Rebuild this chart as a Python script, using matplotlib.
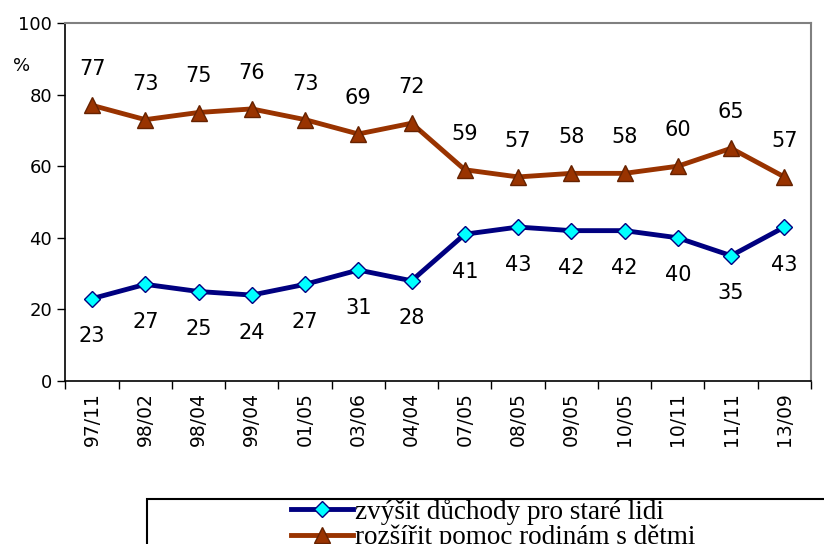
import matplotlib
matplotlib.use("Agg")
from matplotlib import pyplot as plt
from matplotlib.patches import Rectangle
from matplotlib.lines import Line2D

periods = ["97/11", "98/02", "98/04", "99/04", "01/05", "03/06", "04/04",
           "07/05", "08/05", "09/05", "10/05", "10/11", "11/11", "13/09"]
pensions = [23, 27, 25, 24, 27, 31, 28, 41, 43, 42, 42, 40, 35, 43]
families = [77, 73, 75, 76, 73, 69, 72, 59, 57, 58, 58, 60, 65, 57]

label_pensions = "zvýšit důchody pro staré lidi"
label_families = "rozšířit pomoc rodinám s dětmi"

blue = "#000080"
cyan = "#00FFFF"
red = "#993300"

W, H = 824, 544
fig = plt.figure(figsize=(W / 100, H / 100), dpi=100)
ax = fig.add_axes([65.4 / W, 1 - 381 / H, (811 - 65.4) / W, (381 - 23) / H])

x = list(range(len(periods)))

ax.plot(x, pensions, color=blue, lw=3.5, marker="D", ms=8.5,
        mfc=cyan, mec=blue, mew=1, zorder=3)
ax.plot(x, families, color=red, lw=3.5, marker="^", ms=11,
        mfc=red, mec="#662200", mew=1, zorder=3)

for xi, v in zip(x, pensions):
    ax.annotate(str(v), (xi, v), xytext=(0, -27), textcoords="offset points",
                ha="center", va="center", fontsize=15)
for xi, v in zip(x, families):
    ax.annotate(str(v), (xi, v), xytext=(0, 26), textcoords="offset points",
                ha="center", va="center", fontsize=15)

ax.set_xlim(-0.5, len(periods) - 0.5)
ax.set_ylim(0, 100)
ax.set_yticks(range(0, 101, 20))
ax.tick_params(axis="y", labelsize=13, length=6, width=1, direction="out")

ax.set_xticks(x)
ax.set_xticklabels(periods, rotation=90, fontsize=13.5)
ax.set_xticks([i - 0.5 for i in range(len(periods) + 1)], minor=True)
ax.tick_params(axis="x", which="major", length=0, pad=8)
ax.tick_params(axis="x", which="minor", length=6, width=1, direction="out")

for side in ("top", "right"):
    ax.spines[side].set_color("#808080")
    ax.spines[side].set_linewidth(1.5)
for side in ("left", "bottom"):
    ax.spines[side].set_linewidth(1.2)

fig.text(22 / W, 1 - 66 / H, "%", ha="center", va="center", fontsize=13)

# legend box, cut by the bottom edge like in the original
fig.patches.append(Rectangle((147 / W, 1 - 560 / H), 700 / W, 61 / H,
                             transform=fig.transFigure, fill=False,
                             ec="black", lw=1.5))

handles = [
    Line2D([], [], color=blue, lw=3.5, marker="D", ms=8.5, mfc=cyan, mec=blue),
    Line2D([], [], color=red, lw=3.5, marker="^", ms=11, mfc=red, mec="#662200"),
]
fig.legend(handles, [label_pensions, label_families], loc="upper left",
           bbox_to_anchor=(291 / W, 1 - 499 / H), frameon=False,
           prop={"family": "Liberation Serif", "size": 19.5},
           handlelength=2.3, handletextpad=0.05, labelspacing=0.0,
           borderaxespad=0, borderpad=0)

fig.savefig("out.png", dpi=100)
plt.close("all")
